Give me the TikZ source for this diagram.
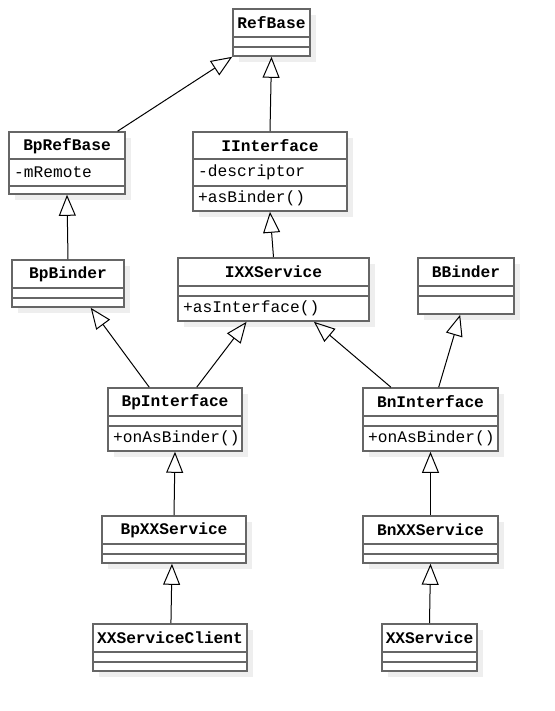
\documentclass[tikz,border=0pt]{standalone}
\usepackage{fontspec}
\setmonofont{Liberation Mono}
\usetikzlibrary{arrows.meta,calc,fit}
\definecolor{boxgray}{HTML}{666666}
\definecolor{shadowgray}{HTML}{EEEEEE}
\tikzset{
  x=1pt, y=-1pt,
  box/.style={draw=boxgray, line width=1.6pt, fill=white, inner sep=0pt},
  divider/.style={draw=boxgray, line width=1.6pt},
  title/.style={font=\ttfamily\bfseries\fontsize{16.2}{18}\selectfont, anchor=center, inner sep=0pt},
  member/.style={font=\ttfamily\fontsize{16.2}{18}\selectfont, anchor=west, inner sep=0pt},
  gen/.style={draw=black, line width=1pt, -{Triangle[open, length=21pt, width=17pt, line width=1pt]}},
}
\newcommand{\umlclass}[5]{%
  \fill[shadowgray] (#2+6,#3+6) rectangle (#4+6,#5+6);
  \node[box, fit={(#2,#3)(#4,#5)}] (#1) {};
}
\begin{document}
\begin{tikzpicture}
\useasboundingbox (0,0) rectangle (554,711);

% RefBase
\umlclass{refbase}{233}{9}{310}{56}
\draw[divider] (233,37) -- (310,37);
\draw[divider] (233,47) -- (310,47);
\node[title] (t-refbase) at (271.5,23) {RefBase};

% BpRefBase
\umlclass{bprefbase}{9}{132}{125}{194}
\draw[divider] (9,159) -- (125,159);
\draw[divider] (9,186) -- (125,186);
\node[title] (t-bprefbase) at (67,146) {BpRefBase};
\node[member] (m-bprefbase) at (14,172.5) {-mRemote};

% IInterface
\umlclass{iinterface}{193}{132}{347}{211}
\draw[divider] (193,159) -- (347,159);
\draw[divider] (193,186) -- (347,186);
\node[title] (t-iinterface) at (270,146) {IInterface};
\node[member] (m-iinterface) at (198,172.5) {-descriptor};
\node[member] (o-iinterface) at (198,198.5) {+asBinder()};

% BpBinder
\umlclass{bpbinder}{12}{260}{124}{307}
\draw[divider] (12,288) -- (124,288);
\draw[divider] (12,298) -- (124,298);
\node[title] (t-bpbinder) at (68,274) {BpBinder};

% IXXService
\umlclass{ixxservice}{178}{258}{369}{321}
\draw[divider] (178,286) -- (369,286);
\draw[divider] (178,296) -- (369,296);
\node[title] (t-ixxservice) at (273.5,272) {IXXService};
\node[member] (o-ixxservice) at (183,308.5) {+asInterface()};

% BBinder
\umlclass{bbinder}{418}{258}{514}{314}
\draw[divider] (418,286) -- (514,286);
\draw[divider] (418,296) -- (514,296);
\node[title] (t-bbinder) at (466,272) {BBinder};

% BpInterface
\umlclass{bpinterface}{108}{388}{242}{451}
\draw[divider] (108,416) -- (242,416);
\draw[divider] (108,426) -- (242,426);
\node[title] (t-bpinterface) at (175,402) {BpInterface};
\node[member] (o-bpinterface) at (113,438.5) {+onAsBinder()};

% BnInterface
\umlclass{bninterface}{363}{388}{498}{451}
\draw[divider] (363,416) -- (498,416);
\draw[divider] (363,426) -- (498,426);
\node[title] (t-bninterface) at (430.5,402) {BnInterface};
\node[member] (o-bninterface) at (368,438.5) {+onAsBinder()};

% BpXXService
\umlclass{bpxxservice}{102}{516}{246}{563}
\draw[divider] (102,544) -- (246,544);
\draw[divider] (102,554) -- (246,554);
\node[title] (t-bpxxservice) at (174,530) {BpXXService};

% BnXXService
\umlclass{bnxxservice}{363}{516}{498}{563}
\draw[divider] (363,544) -- (498,544);
\draw[divider] (363,554) -- (498,554);
\node[title] (t-bnxxservice) at (430.5,530) {BnXXService};

% XXServiceClient
\umlclass{xxserviceclient}{93}{624}{247}{671}
\draw[divider] (93,652) -- (247,652);
\draw[divider] (93,662) -- (247,662);
\node[title] (t-xxserviceclient) at (170,638) {XXServiceClient};

% XXService
\umlclass{xxservice}{382}{624}{477}{671}
\draw[divider] (382,652) -- (477,652);
\draw[divider] (382,662) -- (477,662);
\node[title] (t-xxservice) at (429.5,638) {XXService};

% generalizations
\draw[gen] ($(bprefbase.north west)!0.93!(bprefbase.north east)$) -- (refbase.south west);
\draw[gen] (iinterface.north) -- (refbase.south);
\draw[gen] (bpbinder.north) -- (bprefbase.south);
\draw[gen] ($(ixxservice.north west)!0.5!(ixxservice.north east)$) -- ($(iinterface.south west)!0.5!(iinterface.south east)$);
\draw[gen] ($(bpinterface.north west)!0.31!(bpinterface.north east)$) -- ($(bpbinder.south west)!0.70!(bpbinder.south east)$);
\draw[gen] ($(bpinterface.north west)!0.66!(bpinterface.north east)$) -- ($(ixxservice.south west)!0.36!(ixxservice.south east)$);
\draw[gen] ($(bninterface.north west)!0.21!(bninterface.north east)$) -- ($(ixxservice.south west)!0.71!(ixxservice.south east)$);
\draw[gen] ($(bninterface.north west)!0.56!(bninterface.north east)$) -- ($(bbinder.south west)!0.44!(bbinder.south east)$);
\draw[gen] (bpxxservice.north) -- (bpinterface.south);
\draw[gen] (bnxxservice.north) -- (bninterface.south);
\draw[gen] ($(xxserviceclient.north west)!0.506!(xxserviceclient.north east)$) -- ($(bpxxservice.south west)!0.486!(bpxxservice.south east)$);
\draw[gen] (xxservice.north) -- (bnxxservice.south);
\end{tikzpicture}
\end{document}
